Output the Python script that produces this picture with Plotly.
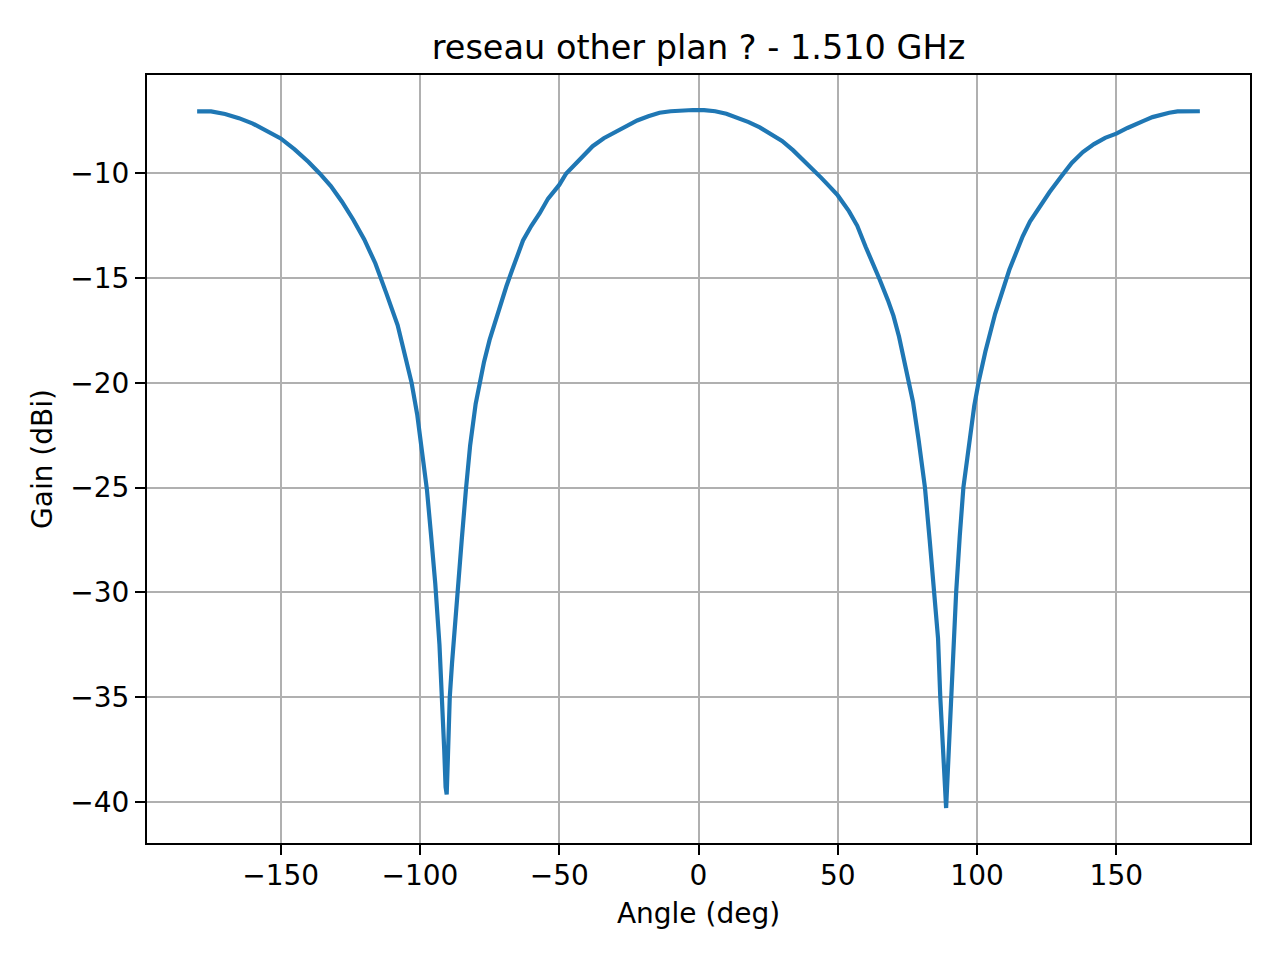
import plotly.graph_objects as go

# angle (deg) / gain (dBi)
angle = [-180, -175, -170, -165, -160, -155, -150, -145, -140, -136, -132, -128,
         -124, -120, -116, -112, -108, -105, -103, -101, -99, -97.5, -96, -94.5,
         -93, -92, -91.3, -90.8, -90.4, -90, -89.3, -88.5, -87.5, -86.5, -85,
         -83.5, -82, -80, -78.5, -77, -75, -73, -71, -69, -67, -65, -63, -60,
         -57, -54, -50, -47.5, -45, -42, -38, -34, -30, -26, -22, -18, -14, -10,
         -6, -2, 2, 6, 10, 14, 18, 22, 26, 30, 34, 38, 41, 44, 47, 50, 54, 57,
         60, 63, 65, 68, 70, 72, 74, 75.6, 77, 79, 81.3, 83, 84.7, 86, 86.8,
         87.8, 88.9, 89.7, 90.7, 91.5, 92.5, 93.8, 95.1, 96.5, 97.8, 99, 100.5,
         103, 106.5, 109, 111.6, 114, 116.4, 119, 122.4, 126, 130.5, 134, 138,
         142, 146, 150, 154, 157, 160, 163, 166, 169, 172, 176, 180]
gain = [-7.04, -7.04, -7.16, -7.36, -7.62, -7.95, -8.33, -8.85, -9.45, -10.0,
        -10.6, -11.35, -12.2, -13.15, -14.3, -15.75, -17.25, -18.9, -20.0,
        -21.5, -23.4, -25.1, -27.3, -29.6, -32.5, -35.0, -37.5, -39.3, -39.65,
        -38.0, -35.0, -33.4, -31.6, -29.85, -27.5, -25.1, -23.0, -21.0, -19.95,
        -19.0, -17.95, -17.05, -16.2, -15.4, -14.65, -13.9, -13.2, -12.5, -11.9,
        -11.2, -10.55, -10.0, -9.65, -9.2, -8.7, -8.32, -8.02, -7.72, -7.47,
        -7.27, -7.1, -7.03, -6.99, -6.97, -6.98, -7.03, -7.15, -7.33, -7.55,
        -7.8, -8.12, -8.45, -8.9, -9.4, -9.8, -10.2, -10.62, -11.05, -11.8,
        -12.5, -13.5, -14.4, -15.05, -16.05, -16.8, -17.8, -19.0, -20.0, -20.9,
        -22.7, -25.0, -27.5, -30.0, -32.2, -35.0, -37.5, -40.3, -38.0, -35.0,
        -32.5, -30.0, -27.3, -25.0, -23.6, -22.3, -21.1, -20.0, -18.5, -16.7,
        -15.6, -14.6, -13.8, -13.0, -12.3, -11.6, -10.9, -10.1, -9.5, -8.98,
        -8.6, -8.3, -8.1, -7.83, -7.63, -7.48, -7.31, -7.2, -7.1, -7.04,
        -7.02, -7.03]

xticks = [-150, -100, -50, 0, 50, 100, 150]
xtick_text = ["−150", "−100", "−50", "0", "50", "100", "150"]
yticks = [-40, -35, -30, -25, -20, -15, -10]
ytick_text = ["−40", "−35", "−30", "−25", "−20", "−15", "−10"]

font = "DejaVu Sans"

fig = go.Figure()
fig.add_trace(go.Scatter(x=angle, y=gain, mode="lines",
                         line=dict(color="#1f77b4", width=4.2)))

axis_style = dict(showline=True, linecolor="black", linewidth=2.2, mirror=True,
                  ticks="outside", ticklen=10, tickwidth=2.2, tickcolor="black",
                  showgrid=True, gridcolor="#b0b0b0", gridwidth=2.2,
                  zeroline=False, tickfont=dict(family=font, size=28, color="black"))

fig.update_xaxes(range=[-198, 198], tickvals=xticks, ticktext=xtick_text,
                 ticklabelstandoff=-4,
                 title=dict(text="Angle (deg)", font=dict(family=font, size=28, color="black"),
                            standoff=13),
                 **axis_style)
fig.update_yaxes(range=[-41.97, -5.3], tickvals=yticks, ticktext=ytick_text,
                 title=dict(text="Gain (dBi)", font=dict(family=font, size=28, color="black"),
                            standoff=9),
                 **axis_style)

# page body adds an 8px offset, margins are compensated for it
fig.update_layout(
    width=1280, height=960,
    margin=dict(l=139, r=38, t=67, b=125),
    plot_bgcolor="white", paper_bgcolor="white",
    showlegend=False,
    title=dict(text="reseau other plan ? - 1.510 GHz", x=0.5, xref="paper",
               y=1 - 39 / 960, yref="container", xanchor="center", yanchor="middle",
               font=dict(family=font, size=33.5, color="black")),
)

fig.write_html("out.html")
